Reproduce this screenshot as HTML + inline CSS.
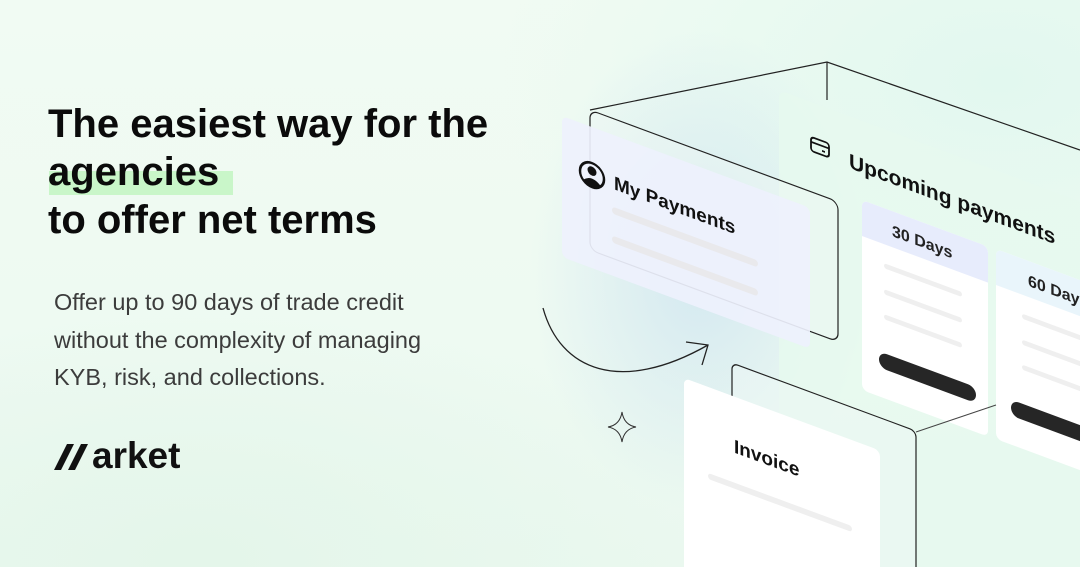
<!DOCTYPE html>
<html><head><meta charset="utf-8"><style>
html,body{margin:0;padding:0;overflow:hidden;width:1080px;height:567px}
body{position:relative;font-family:"Liberation Sans",sans-serif;
background:
radial-gradient(ellipse 170px 240px at 700px 270px, rgba(205,228,240,.8), rgba(205,228,240,0) 100%),
radial-gradient(ellipse 500px 300px at 1000px 80px, #e2f8ef, rgba(226,248,239,0) 100%),
radial-gradient(ellipse 500px 260px at 200px 560px, #e4f6ea, rgba(228,246,234,0) 100%),
linear-gradient(180deg,#f1fbf3 0%,#eefaf2 60%,#eaf8ef 100%);}
.h{position:absolute;left:48px;font-size:40px;font-weight:bold;color:#0b0b0b;line-height:48px;white-space:nowrap}
.p{position:absolute;left:54px;font-size:23.5px;color:#3c3c3c;line-height:37.5px;white-space:nowrap}
svg{overflow:hidden}
</style></head><body>
<div style="position:absolute;left:49px;top:171px;width:184px;height:24px;background:#c9f6c9"></div>
<div class="h" style="top:100px">The easiest way for the</div>
<div class="h" style="top:148px">agencies</div>
<div class="h" style="top:196px">to offer net terms</div>
<div class="p" style="top:284px">Offer up to 90 days of trade credit<br>without the complexity of managing<br>KYB, risk, and collections.</div>
<svg width="44" height="30" style="position:absolute;left:54px;top:443px">
<polygon points="0,27 7,27 20,1 13,1" fill="#111"/>
<polygon points="14,27 21,27 34,1 27,1" fill="#111"/>
</svg>
<div style="position:absolute;left:92px;top:436px;font-size:37px;font-weight:bold;color:#111;line-height:40px">arket</div>

<svg width="1080" height="567" style="position:absolute;left:0;top:0" xmlns="http://www.w3.org/2000/svg">
<g fill="none" stroke="#222" stroke-width="1.2">
<path d="M590 110 L827 62 L1080 150"/>
<path d="M827 62 L827 100"/>
</g>
<g transform="translate(779,90) skewY(20.3)">
<rect x="0" y="0" width="400" height="500" rx="8" fill="#e6f9ee" opacity="0.85"/>
</g>
<g transform="translate(590,110) skewY(20.3)">
<rect x="0" y="0" width="248" height="140" rx="8" fill="#f0f7f4" fill-opacity="0.4" stroke="#222" stroke-width="1.2"/>
</g>
<g transform="translate(562,116) skewY(20.3)">
<rect x="0" y="0" width="248" height="141" rx="6" fill="#eef1fd" opacity="0.92"/>
<circle cx="30" cy="48" r="12" fill="none" stroke="#111" stroke-width="2.5"/>
<circle cx="30" cy="44" r="4.5" fill="#111"/>
<path d="M21 56 Q30 47 39 56 L36 59 Q30 61 24 59Z" fill="#111"/>
<text x="52" y="54" font-size="19" font-weight="bold" fill="#111" font-family="Liberation Sans, sans-serif">My Payments</text>
<rect x="50" y="72" width="146" height="7" rx="3.5" fill="#e9e9ec"/>
<rect x="50" y="101" width="146" height="7" rx="3.5" fill="#e9e9ec"/>
</g>
<g transform="translate(779,90) skewY(20.3)">
<rect x="32" y="35" width="18" height="14" rx="3" fill="none" stroke="#111" stroke-width="1.8"/>
<line x1="32" y1="40" x2="50" y2="40" stroke="#111" stroke-width="1.8"/>
<line x1="43" y1="45" x2="46" y2="45" stroke="#111" stroke-width="1.8"/>
<text x="70" y="52" font-size="21" font-weight="bold" fill="#111" font-family="Liberation Sans, sans-serif">Upcoming payments</text>
</g>
<g transform="translate(862,200) skewY(20.3)">
<rect x="0" y="0" width="126" height="190" rx="6" fill="#fff"/>
<path d="M6 0 H120 A6 6 0 0 1 126 6 V36 H0 V6 A6 6 0 0 1 6 0Z" fill="#e7ecfc"/>
<text x="30" y="25" font-size="16" font-weight="bold" fill="#222" font-family="Liberation Sans, sans-serif">30 Days</text>
<rect x="22" y="55" width="78" height="5" rx="2.5" fill="#efefef"/>
<rect x="22" y="81" width="78" height="5" rx="2.5" fill="#efefef"/>
<rect x="22" y="106" width="78" height="5" rx="2.5" fill="#efefef"/>
<rect x="17" y="145" width="97" height="16" rx="8" fill="#262626"/>
</g>
<g transform="translate(996,249) skewY(20.3)">
<rect x="0" y="0" width="126" height="190" rx="6" fill="#fff"/>
<path d="M6 0 H120 A6 6 0 0 1 126 6 V36 H0 V6 A6 6 0 0 1 6 0Z" fill="#e9f5fb"/>
<text x="32" y="25" font-size="16" font-weight="bold" fill="#222" font-family="Liberation Sans, sans-serif">60 Days</text>
<rect x="26" y="55" width="78" height="5" rx="2.5" fill="#efefef"/>
<rect x="26" y="81" width="78" height="5" rx="2.5" fill="#efefef"/>
<rect x="26" y="106" width="78" height="5" rx="2.5" fill="#efefef"/>
<rect x="15" y="145" width="97" height="16" rx="8" fill="#262626"/>
</g>
<path d="M916 432 L996 405" stroke="#444" stroke-width="1" fill="none"/>
<g transform="translate(732,363) skewY(20.3)">
<rect x="0" y="0" width="184" height="260" rx="6" fill="#eef8f6" fill-opacity="0.5" stroke="#222" stroke-width="1.2"/>
</g>
<g transform="translate(684,378) skewY(20.3)">
<rect x="0" y="0" width="196" height="260" rx="6" fill="#fff"/>
<text x="50" y="56" font-size="19" font-weight="bold" fill="#111" font-family="Liberation Sans, sans-serif">Invoice</text>
<rect x="24" y="86" width="144" height="6" rx="3" fill="#efefef"/>
</g>
<path d="M543 308 C560 370 620 395 708 345" fill="none" stroke="#222" stroke-width="1.3"/>
<path d="M686 342 L708 345 L702 365" fill="none" stroke="#222" stroke-width="1.3"/>
<path d="M622 412 Q624 425 636 427 Q624 429 622 442 Q620 429 608 427 Q620 425 622 412Z" fill="none" stroke="#333" stroke-width="1"/>
</svg>
</body></html>
